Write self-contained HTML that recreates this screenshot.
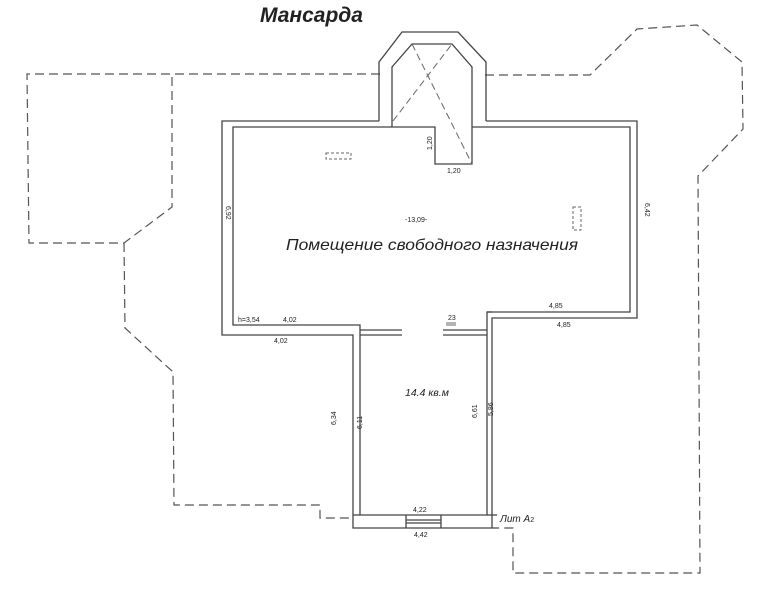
<!DOCTYPE html>
<html><head><meta charset="utf-8"><style>
html,body{margin:0;padding:0;background:#fff;}
svg{display:block;}
text{font-family:"Liberation Sans",sans-serif;fill:#222;}
</style></head><body>
<svg width="773" height="595" viewBox="0 0 773 595" xmlns="http://www.w3.org/2000/svg">
<rect width="773" height="595" fill="#fff"/>
<g fill="none" stroke="#555" stroke-width="1.2" stroke-dasharray="9,5">
<polyline points="380,74 27,74 29,243 124,243 172,207 172,74"/>
<polyline points="124,243 125,328 173,372 174,505 320,505 320,518 353,518"/>
<polyline points="485,75 590,75 637,29 697,25 742,62 743,129 698,176 700,573 513,573 513,528 497,528"/>
</g>
<g fill="none" stroke="#444" stroke-width="1.3">
<polyline points="379,121 222,121 222,335 353,335 353,528 497,528 492,528 492,318 637,318 637,121 486,121"/>
<polyline points="379,121 379,62 402,32 458,32 486,62 486,121"/>
<polyline points="392,127 233,127 233,325 360,325 360,515 487,515 487,312 630,312 630,127 472,127"/>
<polyline points="392,127 392,67 412,44 452,44 472,67 472,164 435,164 435,127 392,127"/>
<line x1="360" y1="330" x2="402" y2="330"/>
<line x1="360" y1="335" x2="402" y2="335"/>
<line x1="443" y1="330" x2="487" y2="330"/>
<line x1="443" y1="335" x2="487" y2="335"/>
<line x1="353" y1="515" x2="360" y2="515"/>
<line x1="487" y1="515" x2="497" y2="515"/>
<line x1="406" y1="515" x2="406" y2="528"/>
<line x1="441" y1="515" x2="441" y2="528"/>
<line x1="406" y1="520" x2="441" y2="520"/>
<line x1="406" y1="523" x2="441" y2="523"/>
<line x1="492" y1="312" x2="487" y2="312"/>
</g>
<g fill="none" stroke="#666" stroke-width="1" stroke-dasharray="7,4">
<line x1="393" y1="121" x2="452" y2="44"/>
<line x1="412" y1="44" x2="472" y2="164"/>
</g>
<g fill="none" stroke="#666" stroke-width="1" stroke-dasharray="3,2">
<rect x="326" y="153" width="25" height="6"/>
<rect x="573" y="207" width="8" height="23"/>
</g>
<text x="260" y="22" font-size="21" font-weight="bold" font-style="italic" fill="#111">Мансарда</text>
<text x="286" y="250" font-size="16" font-style="italic" fill="#111" textLength="292" lengthAdjust="spacingAndGlyphs">Помещение свободного назначения</text>
<text x="405" y="396" font-size="10.5" font-style="italic" fill="#111">14.4 кв.м</text>
<g font-size="7" fill="#333">
<text x="405" y="222">-13,09-</text>
<text x="447" y="173">1,20</text>
<text x="432" y="150" transform="rotate(-90 432 150)">1,20</text>
<text x="226" y="206" transform="rotate(90 226 206)">6,92</text>
<text x="645" y="203" transform="rotate(90 645 203)">6,42</text>
<text x="238" y="322">h=3,54</text>
<text x="283" y="322">4,02</text>
<text x="274" y="343">4,02</text>
<text x="549" y="308">4,85</text>
<text x="557" y="327">4,85</text>
<text x="448" y="320">23</text>
<text x="343" y="418" transform="rotate(-90 343 425)">6,34</text>
<text x="365" y="418" transform="rotate(-90 369 425)">6,11</text>
<text x="479" y="406" transform="rotate(-90 484 413)">6,61</text>
<text x="495" y="404" transform="rotate(-90 500 411)">5,86</text>
<text x="413" y="512">4,22</text>
<text x="414" y="537">4,42</text>
</g>
<text x="500" y="522" font-size="10" font-style="italic" fill="#555">Лит А<tspan font-size="7" font-style="normal">2</tspan></text>
<line x1="446" y1="323" x2="456" y2="323" stroke="#444" stroke-width="0.8"/>
<line x1="446" y1="325" x2="456" y2="325" stroke="#444" stroke-width="0.8"/>
</svg>
</body></html>
